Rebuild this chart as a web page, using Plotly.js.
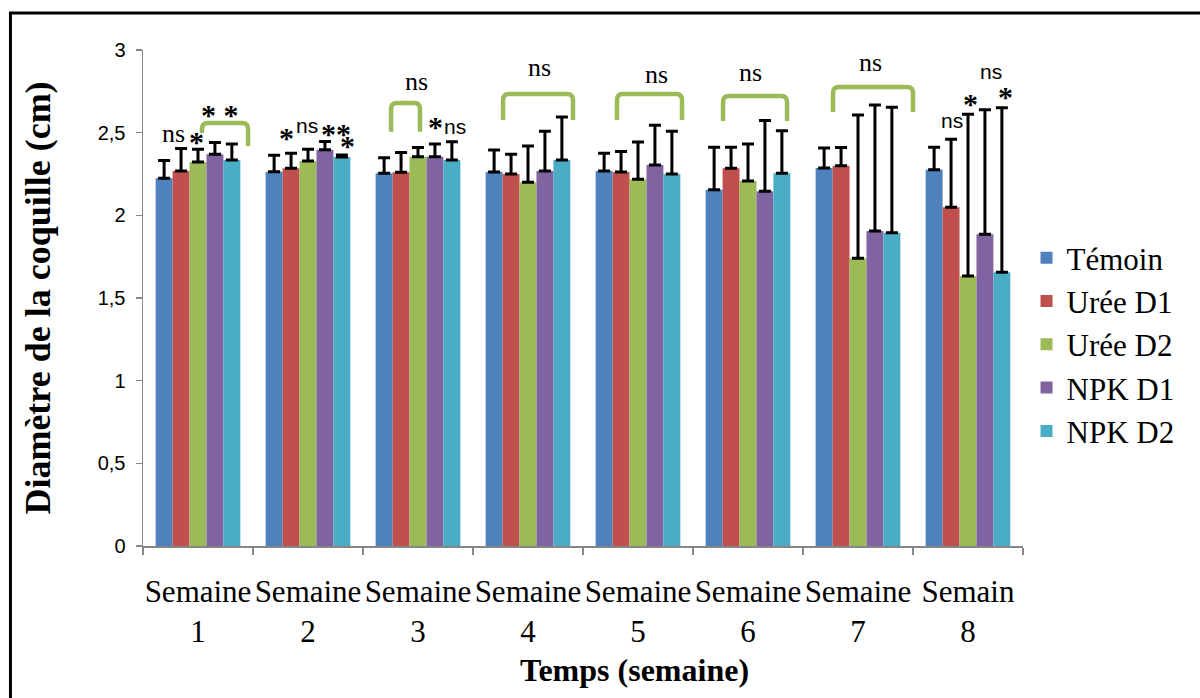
<!DOCTYPE html>
<html><head><meta charset="utf-8">
<script src="https://cdn.plot.ly/plotly-3.0.1.min.js"></script>
<style>html,body{margin:0;padding:0;background:#fff}#chart{width:1200px;height:698px}</style>
</head><body><div id="chart"></div>
<script>
// ---- data ----
const weeks = ["Semaine<br>1","Semaine<br>2","Semaine<br>3","Semaine<br>4","Semaine<br>5","Semaine<br>6","Semaine<br>7","Semain<br>8"];
const seriesNames = ["Témoin","Urée D1","Urée D2","NPK D1","NPK D2"];
const temoin    = [2.224, 2.263, 2.254, 2.262, 2.268, 2.154, 2.287, 2.275];
const temoinErr = [0.107, 0.100, 0.095, 0.133, 0.107, 0.258, 0.120, 0.137];
const ureeD1    = [2.268, 2.285, 2.260, 2.250, 2.262, 2.285, 2.300, 2.049];
const ureeD1Err = [0.136, 0.090, 0.120, 0.120, 0.124, 0.127, 0.110, 0.411];
const ureeD2    = [2.323, 2.329, 2.355, 2.200, 2.218, 2.208, 1.740, 1.633];
const ureeD2Err = [0.077, 0.070, 0.056, 0.220, 0.226, 0.224, 0.867, 0.979];
const npkD1     = [2.370, 2.396, 2.355, 2.268, 2.305, 2.146, 1.905, 1.886];
const npkD1Err  = [0.070, 0.050, 0.076, 0.240, 0.240, 0.427, 0.763, 0.752];
const npkD2     = [2.335, 2.353, 2.335, 2.335, 2.250, 2.255, 1.895, 1.656];
const npkD2Err  = [0.097, 0.012, 0.110, 0.260, 0.259, 0.257, 0.759, 0.994];

// significance labels (x in category-index units, y in data units)
const sigText = ["ns","*","* *","*","ns","**","*","ns","*","ns","ns","ns","ns","ns","ns","*","ns","*"];
const sigX    = [-0.227,-0.018,0.20,0.809,0.995,1.25,1.36,1.982,2.155,2.336,3.109,4.164,5.027,6.118,6.855,7.027,7.209,7.345];
const sigY    = [2.498,2.444,2.607,2.468,2.545,2.498,2.42,2.807,2.535,2.535,2.892,2.849,2.861,2.922,2.571,2.674,2.867,2.716];
const sigSans = [false,false,false,false,true,false,false,false,false,true,false,false,false,false,true,false,true,false];

// brackets
const brLeft     = [0.036, 1.755, 2.773, 3.809, 4.773, 5.773];
const brRight    = [0.455, 2.018, 3.409, 4.400, 5.355, 6.500];
const brTop      = [2.559, 2.680, 2.734, 2.734, 2.722, 2.776];
const brLeftEnd  = [2.498, 2.505, 2.577, 2.577, 2.571, 2.625];
const brRightEnd = [2.420, 2.505, 2.577, 2.577, 2.571, 2.625];

const SERIF = '"Liberation Serif", "Times New Roman", Times, serif';
const SANS = '"Liberation Sans", Arial, sans-serif';
const colors = ["#4F81BD","#C0504D","#9BBB59","#8064A2","#4BACC6"];
const values = [temoin, ureeD1, ureeD2, npkD1, npkD2];
const errs = [temoinErr, ureeD1Err, ureeD2Err, npkD1Err, npkD2Err];

const traces = seriesNames.map((n, i) => ({
  type: 'bar', name: n, x: weeks, y: values[i], legendgroup: 'g' + i,
  marker: {color: colors[i]},
  error_y: {type: 'data', array: errs[i], arrayminus: errs[i].map(() => 0), symmetric: false,
            color: '#000', thickness: 3, width: 6}
}));

const shapes = [];
for (let i = 0; i < brLeft.length; i++) {
  const xl = brLeft[i], xr = brRight[i], yt = brTop[i];
  const dx = 0.05, dy = 0.04;
  shapes.push({type: 'path', xref: 'x', yref: 'y', layer: 'above',
    path: `M ${xl},${brLeftEnd[i]} L ${xl},${yt - dy} Q ${xl},${yt} ${xl + dx},${yt} L ${xr - dx},${yt} Q ${xr},${yt} ${xr},${yt - dy} L ${xr},${brRightEnd[i]}`,
    line: {color: '#9BBB59', width: 4.5}});
}
// outer frame (left and top edges)
shapes.push({type:'line', xref:'paper', yref:'paper', x0:-0.1506, x1:-0.1506, y0:-0.32, y1:1.0746, line:{color:'#000', width:3}});
shapes.push({type:'line', xref:'paper', yref:'paper', x0:-0.1523, x1:1.21, y0:1.0746, y1:1.0746, line:{color:'#000', width:3}});

const annotations = sigText.map((t, i) => ({
  x: sigX[i], y: sigY[i], xref: 'x', yref: 'y', text: t, showarrow: false,
  font: t.indexOf('*') >= 0 ? {family: SERIF, size: 30, color: '#000', weight: 'bold'}
       : {family: sigSans[i] ? SANS : SERIF, size: sigSans[i] ? 21 : 26, color: '#000'},
  xanchor: 'center', yanchor: 'middle'
}));
annotations.push({xref:'paper', yref:'paper', x:0.559, y:-0.25, text:'<b>Temps (semaine)</b>', showarrow:false,
  font:{family: SERIF, size:32, color:'#000'}, xanchor:'center', yanchor:'middle'});

const layout = {
  width: 1200, height: 698,
  margin: {l: 143, r: 177, t: 50, b: 152},
  paper_bgcolor: '#fff', plot_bgcolor: '#fff',
  separators: ', ',
  barmode: 'group', bargap: 0.23, bargroupgap: 0,
  font: {family: SERIF, color: '#000'},
  showlegend: true,
  legend: {x: 1.004, xanchor: 'left', y: 0.635, yanchor: 'top', font: {size: 31, family: SERIF, color: '#000'},
           tracegroupgap: 8, itemwidth: 30, bgcolor: 'rgba(0,0,0,0)', traceorder: 'normal'},
  xaxis: {type: 'category', tickson: 'boundaries', ticks: 'outside', ticklen: 7, tickcolor: '#868686', tickwidth: 1.5,
          showline: true, linecolor: '#868686', linewidth: 1.5, showgrid: false, zeroline: false,
          tickfont: {size: 31, family: SERIF, color: '#000'}, ticklabelstandoff: 17, tickangle: 0,
          range: [-0.5, 7.5]},
  yaxis: {range: [0, 3], dtick: 0.5, tick0: 0, ticks: 'outside', ticklen: 6, tickcolor: '#868686', tickwidth: 1.5,
          showline: true, linecolor: '#868686', linewidth: 1.5, showgrid: false, zeroline: false,
          tickfont: {size: 20, family: SANS, color: '#000'}, ticklabelstandoff: 6,
          title: {text: '<b>Diamètre de la coquille (cm)</b>', font: {size: 36, family: SERIF, color: '#000'}, standoff: 36}},
  shapes: shapes,
  annotations: annotations
};

Plotly.newPlot('chart', traces, layout, {displayModeBar: false, staticPlot: true});
</script></body></html>
